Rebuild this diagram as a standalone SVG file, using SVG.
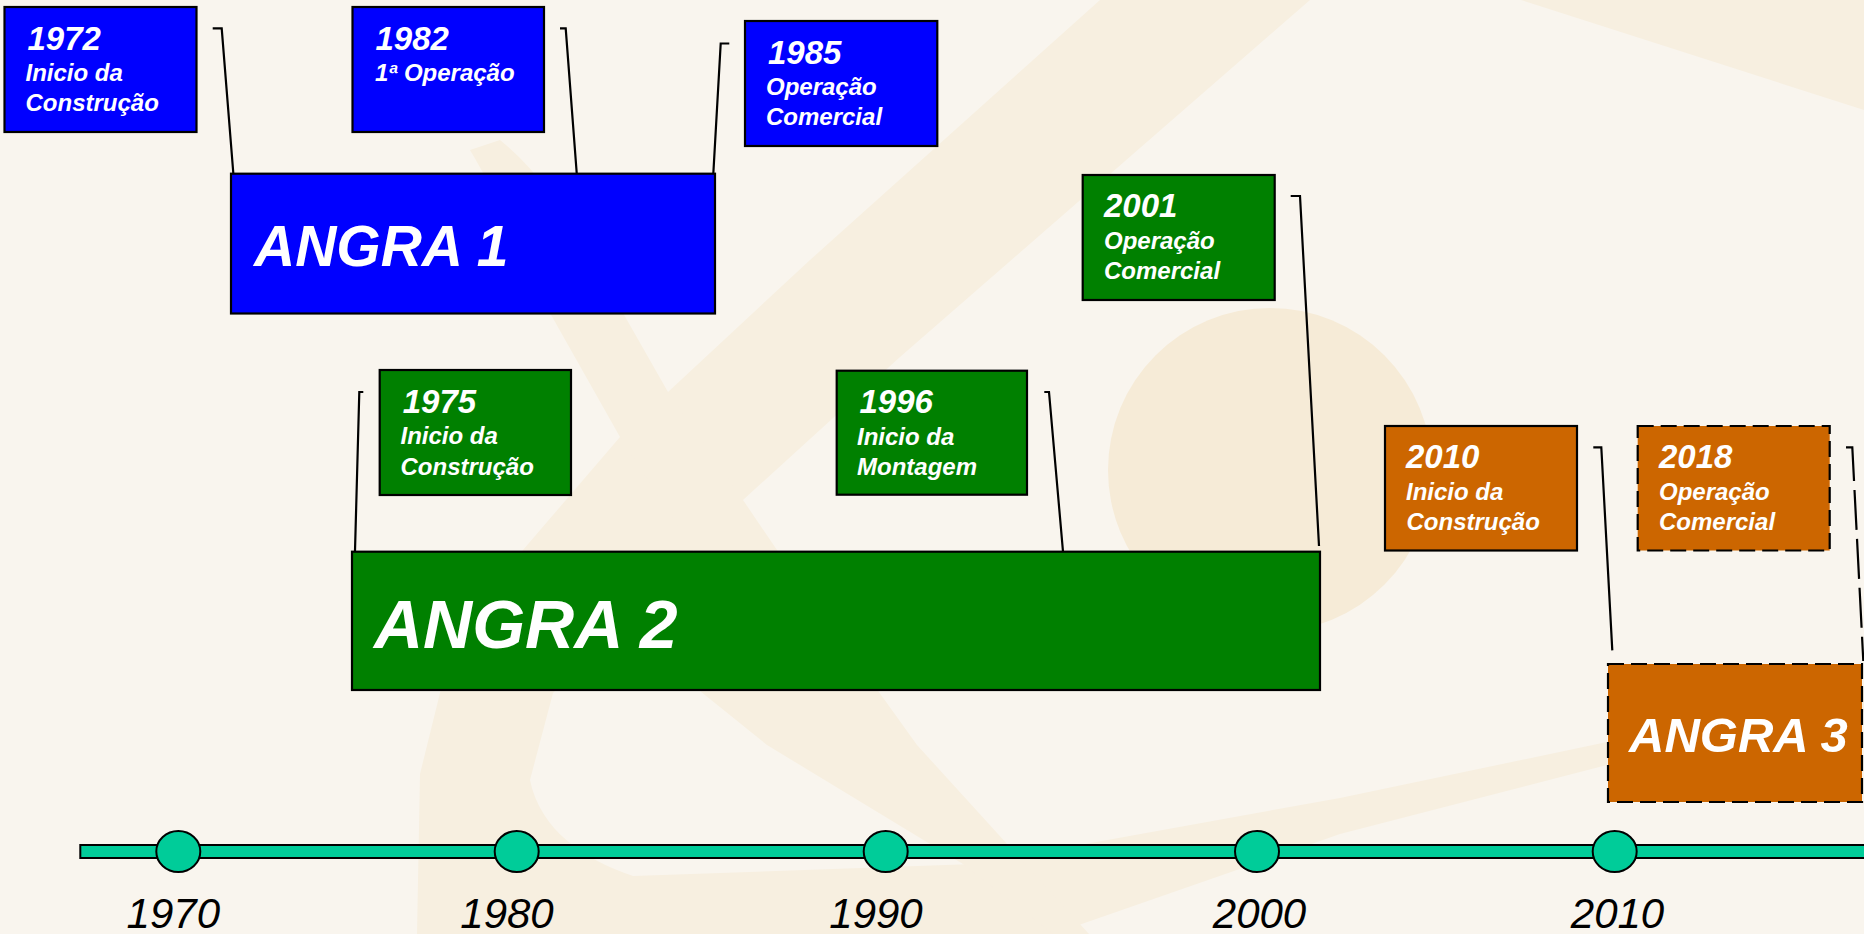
<svg xmlns="http://www.w3.org/2000/svg" width="1864" height="934" viewBox="0 0 1864 934">
<style>
.deco{fill:#F7EFE0}
.nuc{fill:#F6EBD7}
.box{stroke:#000;stroke-width:2.2}
.dash{stroke-dasharray:16 7}
.blue{fill:#0000FF}
.green{fill:#008000}
.orange{fill:#CC6600}
.yr{font-family:"Liberation Sans",Arial,sans-serif;font-style:italic;font-weight:bold;font-size:33px;fill:#FFFFFF}
.sub{font-family:"Liberation Sans",Arial,sans-serif;font-style:italic;font-weight:bold;font-size:24px;fill:#FFFFFF}
.big{font-family:"Liberation Sans",Arial,sans-serif;font-style:italic;font-weight:bold;fill:#FFFFFF}
.conn{fill:none;stroke:#000;stroke-width:2.2}
.axis{fill:#00CC99;stroke:#000;stroke-width:2}
.tick{font-family:"Liberation Sans",Arial,sans-serif;font-style:italic;font-size:42px;fill:#000;text-anchor:middle}
</style>
<g id="background">
<rect x="0" y="0" width="1864" height="934" fill="#F9F5EE"/>
<circle class="nuc" cx="1270" cy="470" r="162"/>
<path class="deco" d="M1100,0 L810,260 L668,392 L620,437 L523,550 C485,600 450,650 440,693 L420,774 L417,934 L1053,934 L1340,834 L1607,765 L1864,712 L1864,690 L1607,742 L1340,798 L974,864 L633,876 C585,860 540,830 530,780 L553,693 L743,500 L900,357 L1310,0 Z"/>
<path class="deco" d="M470,150 C500,200 530,270 550,313 L620,437 L700,560 L700,691 L767,745 L963,864 L1053,934 L1089,934 L917,745 L777,550 L743,500 L668,392 L623,313 C590,250 550,180 500,140 Z"/>
<path class="deco" d="M1521,0 L1864,110 L1864,0 Z"/>
</g>
<g id="connectors">
<polyline class="conn" points="212.7,28.3 221.7,28.3 233.3,173"/>
<polyline class="conn" points="560,28.3 565.7,28.3 576.7,173"/>
<polyline class="conn" points="729.3,43.5 720.7,43.5 713.3,174"/>
<polyline class="conn" points="363.3,392 359.3,392 355,551"/>
<polyline class="conn" points="1044.3,392 1049,392 1063.3,555"/>
<polyline class="conn" points="1290.7,196 1300,196 1319,546"/>
<polyline class="conn" points="1593.3,447.3 1601.3,447.3 1612.3,650.4"/>
<polyline class="conn" stroke-dasharray="40 9" points="1846,447.3 1852.3,447.3 1863.3,661"/>
</g>
<g id="angra1">
<rect class="box blue" x="231" y="173.7" width="484" height="139.8"/>
<text class="big" x="254" y="266" font-size="57">ANGRA 1</text>
</g>
<g id="angra2">
<rect class="box green" x="352" y="551.7" width="968" height="138.3"/>
<text class="big" x="374" y="647.5" font-size="68">ANGRA 2</text>
</g>
<g id="angra3">
<rect class="box orange dash" x="1608" y="664" width="254" height="138"/>
<text class="big" x="1629" y="751.6" font-size="49">ANGRA 3</text>
</g>
<g id="ev1972">
<rect class="box blue" x="4.5" y="7" width="192" height="125"/>
<text class="yr" x="27.5" y="49.5">1972</text>
<text class="sub" x="25.5" y="81">Inicio da</text>
<text class="sub" x="25.5" y="110.5">Construção</text>
</g>
<g id="ev1982">
<rect class="box blue" x="352.5" y="7" width="191.5" height="125"/>
<text class="yr" x="375.5" y="49.5">1982</text>
<text class="sub" x="375" y="81">1ª Operação</text>
</g>
<g id="ev1985">
<rect class="box blue" x="745" y="21" width="192.3" height="125"/>
<text class="yr" x="768" y="63.5">1985</text>
<text class="sub" x="766" y="95">Operação</text>
<text class="sub" x="766" y="125">Comercial</text>
</g>
<g id="ev1975">
<rect class="box green" x="379.7" y="370" width="191.3" height="125"/>
<text class="yr" x="402.7" y="412.7">1975</text>
<text class="sub" x="400.5" y="444.3">Inicio da</text>
<text class="sub" x="400.5" y="475">Construção</text>
</g>
<g id="ev1996">
<rect class="box green" x="836.7" y="370.7" width="190.3" height="124"/>
<text class="yr" x="859.5" y="413">1996</text>
<text class="sub" x="857" y="445">Inicio da</text>
<text class="sub" x="857" y="475">Montagem</text>
</g>
<g id="ev2001">
<rect class="box green" x="1082.7" y="175" width="192" height="125"/>
<text class="yr" x="1104" y="217">2001</text>
<text class="sub" x="1104" y="249.3">Operação</text>
<text class="sub" x="1104" y="278.5">Comercial</text>
</g>
<g id="ev2010">
<rect class="box orange" x="1385" y="426" width="192" height="124.5"/>
<text class="yr" x="1406" y="467.5">2010</text>
<text class="sub" x="1406" y="500">Inicio da</text>
<text class="sub" x="1406.5" y="530">Construção</text>
</g>
<g id="ev2018">
<rect class="box orange dash" x="1637.7" y="426" width="192" height="124.5"/>
<text class="yr" x="1659" y="467.5">2018</text>
<text class="sub" x="1659" y="500">Operação</text>
<text class="sub" x="1659" y="530">Comercial</text>
</g>
<g id="timeline">
<rect class="axis" x="80.3" y="845" width="1790" height="13"/>
<ellipse class="axis" cx="178.3" cy="851.5" rx="22" ry="20.5"/>
<ellipse class="axis" cx="516.7" cy="851.5" rx="22" ry="20.5"/>
<ellipse class="axis" cx="885.7" cy="851.5" rx="22" ry="20.5"/>
<ellipse class="axis" cx="1257" cy="851.5" rx="22" ry="20.5"/>
<ellipse class="axis" cx="1614.7" cy="851.5" rx="22" ry="20.5"/>
<text class="tick" x="173.3" y="928">1970</text>
<text class="tick" x="507" y="928">1980</text>
<text class="tick" x="876" y="928">1990</text>
<text class="tick" x="1259.5" y="928">2000</text>
<text class="tick" x="1617.5" y="928">2010</text>
</g>
</svg>
